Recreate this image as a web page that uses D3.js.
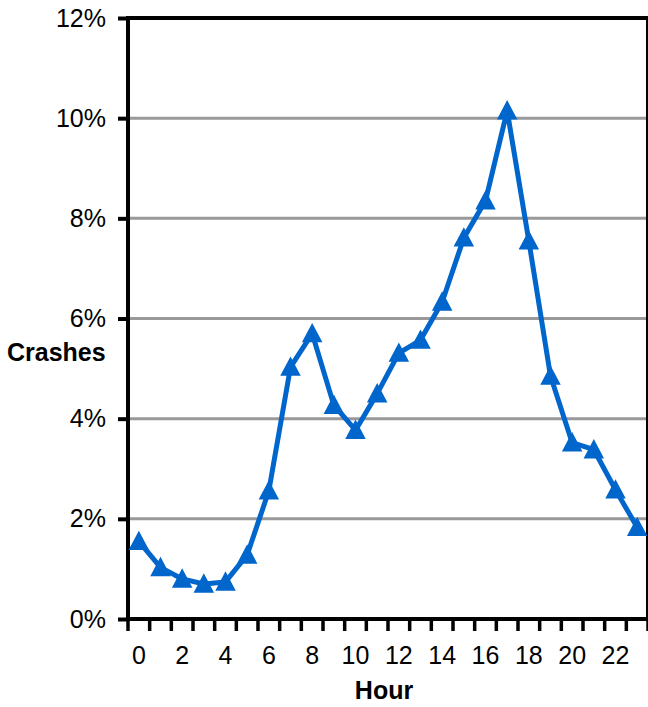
<!DOCTYPE html>
<html>
<head>
<meta charset="utf-8">
<script src="https://cdn.jsdelivr.net/npm/d3@7"></script>
<style>
  html, body { margin: 0; padding: 0; background: #fff; }
  svg { display: block; font-family: "Liberation Sans", Arial, sans-serif; }
</style>
</head>
<body>
<svg id="chart" width="648" height="707"></svg>
<script>
// ---- Data ----
const hours = d3.range(0, 24);
const crashShare = [1.55, 1.03, 0.80, 0.70, 0.74, 1.28, 2.56, 5.03, 5.70, 4.27, 3.77, 4.50,
                    5.31, 5.57, 6.33, 7.61, 8.35, 10.15, 7.55, 4.85, 3.52, 3.38, 2.58, 1.83];
const yTicks = [0, 2, 4, 6, 8, 10, 12];
const xLabelHours = [0, 2, 4, 6, 8, 10, 12, 14, 16, 18, 20, 22];

// ---- Layout ----
const plotLeft = 128, plotRight = 648, plotTop = 18, plotBottom = 619;
const svg = d3.select("#chart");

const x = d3.scaleBand().domain(hours).range([plotLeft, plotRight]).padding(0);
const y = d3.scaleLinear().domain([0, 12]).range([plotBottom, plotTop]);

// Gridlines
svg.append("g").selectAll("line")
  .data(yTicks.filter(t => t > 0 && t < 12))
  .join("line")
  .attr("x1", plotLeft).attr("x2", plotRight)
  .attr("y1", d => y(d)).attr("y2", d => y(d))
  .attr("stroke", "#999999").attr("stroke-width", 3);

// Frame top and right
svg.append("line").attr("x1", plotLeft).attr("x2", plotRight).attr("y1", plotTop).attr("y2", plotTop)
  .attr("stroke", "#000").attr("stroke-width", 4);
svg.append("line").attr("x1", plotRight - 1).attr("x2", plotRight - 1).attr("y1", plotTop).attr("y2", plotBottom)
  .attr("stroke", "#000").attr("stroke-width", 2);

// Y axis
const yAxis = d3.axisLeft(y).tickValues(yTicks).tickFormat(d => d + "%").tickSize(10).tickPadding(12);
const gy = svg.append("g").attr("transform", `translate(${plotLeft},0)`).call(yAxis);
gy.select(".domain").remove();
gy.selectAll(".tick line").attr("stroke", "#000").attr("stroke-width", 4);
gy.selectAll(".tick text").attr("font-size", 25).attr("fill", "#000")
  .attr("font-family", "'Liberation Sans', Arial, sans-serif");
svg.append("line").attr("x1", plotLeft).attr("x2", plotLeft).attr("y1", plotTop - 2).attr("y2", plotBottom + 2)
  .attr("stroke", "#000").attr("stroke-width", 4);

// X axis: ticks at band boundaries
const boundaries = d3.range(0, 25).map(i => plotLeft + i * x.step());
svg.append("g").selectAll("line").data(boundaries).join("line")
  .attr("x1", d => d).attr("x2", d => d)
  .attr("y1", plotBottom).attr("y2", plotBottom + 12)
  .attr("stroke", "#000").attr("stroke-width", 3.5);
svg.append("line").attr("x1", plotLeft - 2).attr("x2", plotRight).attr("y1", plotBottom).attr("y2", plotBottom)
  .attr("stroke", "#000").attr("stroke-width", 4);

svg.append("g").selectAll("text").data(xLabelHours).join("text")
  .attr("x", d => x(d) + x.bandwidth() / 2)
  .attr("y", 664)
  .attr("text-anchor", "middle")
  .attr("font-size", 25)
  .attr("fill", "#000")
  .text(d => d);

// Axis titles
svg.append("text").attr("x", 7).attr("y", 361).attr("font-size", 25).attr("font-weight", "bold")
  .attr("fill", "#000").text("Crashes");
svg.append("text").attr("x", 384).attr("y", 699).attr("text-anchor", "middle")
  .attr("font-size", 25).attr("font-weight", "bold").attr("fill", "#000").text("Hour");

// Series line
const line = d3.line()
  .x((d, i) => x(hours[i]) + x.bandwidth() / 2)
  .y(d => y(d));
svg.append("path").datum(crashShare)
  .attr("d", line)
  .attr("fill", "none")
  .attr("stroke", "#0066CC")
  .attr("stroke-width", 5)
  .attr("stroke-linejoin", "round");

// Triangle markers
svg.append("g").selectAll("path").data(crashShare).join("path")
  .attr("transform", (d, i) => `translate(${x(hours[i]) + x.bandwidth() / 2},${y(d)})`)
  .attr("d", "M0,-9L9,8L-9,8Z")
  .attr("fill", "#0066CC")
  .attr("stroke", "#0066CC")
  .attr("stroke-width", 1.5)
  .attr("stroke-linejoin", "miter");
</script>
</body>
</html>
